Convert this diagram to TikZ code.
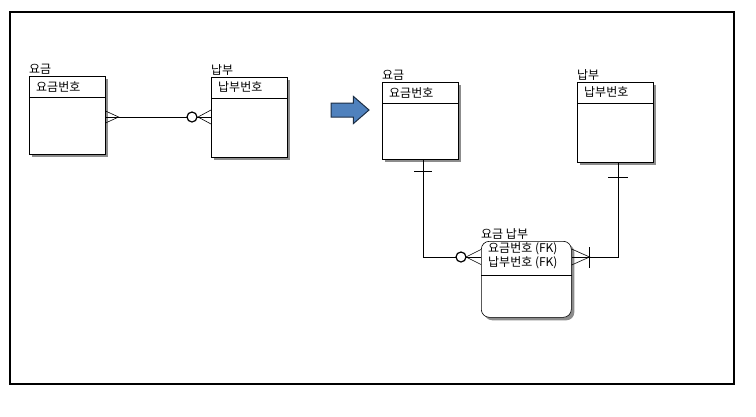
\documentclass[tikz,border=0pt]{standalone}
\usepackage{fontspec}
\newfontfamily\kfont{Noto Sans CJK KR}
\usepackage{tikz}
\usetikzlibrary{shapes,arrows.meta,positioning,calc,shadows}
\definecolor{erdshadow}{HTML}{8C8C8C}
\definecolor{erdarrow}{HTML}{4F81BD}
\definecolor{erdarrowline}{HTML}{1C2E45}
\tikzstyle{entity} = [rectangle, draw=black, line width=0.6pt, fill=white, minimum width=76pt,
    anchor=north west, inner sep=0pt,
    drop shadow={shadow xshift=3pt, shadow yshift=-3pt, fill=erdshadow, opacity=1}]
\tikzstyle{ename} = [font=\kfont\fontsize{12}{13}\selectfont, anchor=south west, inner sep=0pt, yshift=1.5pt]
\tikzstyle{ekey} = [font=\kfont\fontsize{12}{14}\selectfont, anchor=west, inner sep=0pt, align=left]
\tikzstyle{rel} = [line width=0.6pt, black]

\begin{document}
\begin{tikzpicture}[x=1pt, y=-1pt]
\useasboundingbox (0,0) rectangle (756,416);
\draw[line width=1.5pt] (10,12) rectangle (734,384);

% before
\node[entity, minimum height=78pt] (yg1) at (29,76) {};
\node[entity, minimum height=80pt] (nb1) at (211,77) {};
% after
\node[entity, minimum height=77pt] (yg2) at (382,82) {};
\node[entity, minimum height=80pt] (nb2) at (577,82) {};
\node[entity, minimum width=90pt, minimum height=76pt, rounded corners=8pt] (yn) at (481,241) {};

\foreach \e in {yg1,nb1,yg2,nb2}
  \draw[rel] ($(\e.north west)+(0,21)$) -- ($(\e.north east)+(0,21)$);
\draw[rel] ($(yn.north west)+(0,34)$) -- ($(yn.north east)+(0,34)$);

\node[ename] (yg1-t) at (yg1.north west) {요금};
\node[ename] (nb1-t) at (nb1.north west) {납부};
\node[ename] (yg2-t) at (yg2.north west) {요금};
\node[ename] (nb2-t) at (nb2.north west) {납부};
\node[ename] (yn-t) at (yn.north west) {요금 납부};

\node[ekey] (yg1-k) at ($(yg1.north west)+(7,10.5)$) {요금번호};
\node[ekey] (nb1-k) at ($(nb1.north west)+(7,10.5)$) {납부번호};
\node[ekey] (yg2-k) at ($(yg2.north west)+(7,10.5)$) {요금번호};
\node[ekey] (nb2-k) at ($(nb2.north west)+(7,10.5)$) {납부번호};
\node[ekey] (yn-k) at ($(yn.north west)+(7,15)$) {요금번호 (FK)\\납부번호 (FK)};

% 요금 >----O< 납부
\coordinate (c1) at ($(nb1.north west)+(0,40)$);
\draw[rel] (c1) -- (c1 -| yg1.east);
\draw[rel] ($(c1 -| yg1.east)+(0,-6)$) -- ($(c1 -| yg1.east)+(13,0)$) -- ($(c1 -| yg1.east)+(0,6)$);
\draw[rel] ($(c1)+(0,-7)$) -- ($(c1)+(-13,0)$) -- ($(c1)+(0,7)$);
\draw[black, fill=white, line width=1.2pt] ($(c1)+(-19,0)$) circle (5pt);

\node[single arrow, draw=erdarrowline, fill=erdarrow, line width=1pt, minimum height=38pt,
  inner xsep=0pt, inner ysep=6.5pt, single arrow head extend=6.5pt, single arrow tip angle=82] (go) at (346,110) {};

% 요금 -+---O< 요금 납부 >+---+- 납부
\coordinate (yn-l) at ($(yn.north west)+(0,16)$);
\coordinate (yn-r) at ($(yn.north east)+(0,16)$);
\coordinate (yg2-b) at ($(yg2.south)+(3,0)$);
\coordinate (nb2-b) at ($(nb2.south)+(3,0)$);

\draw[rel] (yg2-b) |- (yn-l);
\draw[rel] ($(yg2-b)+(-9,12)$) -- ++(18,0);
\draw[rel] ($(yn-l)+(0,-7.5)$) -- ($(yn-l)+(-15,0)$) -- ($(yn-l)+(0,7.5)$);
\draw[black, fill=white, line width=1.2pt] ($(yn-l)+(-20,0)$) circle (5pt);

\draw[rel] (nb2-b) |- (yn-r);
\draw[rel] ($(nb2-b)+(-10,15)$) -- ++(20,0);
\draw[rel] ($(yn-r)+(0,-8)$) -- ($(yn-r)+(18,0)$) -- ($(yn-r)+(0,8)$);
\draw[rel] ($(yn-r)+(18,-10)$) -- ($(yn-r)+(18,11)$);
\end{tikzpicture}
\end{document}
